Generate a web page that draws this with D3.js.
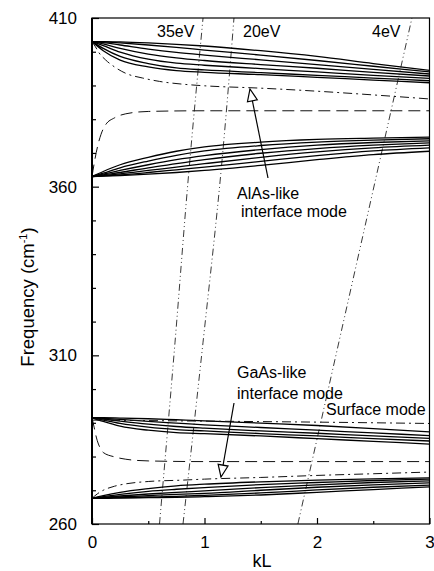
<!DOCTYPE html>
<html>
<head>
<meta charset="utf-8">
<script src="https://cdn.jsdelivr.net/npm/d3@7/dist/d3.min.js"></script>
<style>
  body { margin: 0; background: #fff; }
  svg { display: block; font-family: "Liberation Sans", Arial, sans-serif; }
</style>
</head>
<body>
<svg id="chart" width="434" height="571"></svg>
<script>
// kL grid shared by the confined-mode curves
const kGrid = [0, 0.1, 0.25, 0.5, 0.75, 1, 1.5, 2, 2.5, 3];

// AlAs-like LO confined modes (start at 403, fan downwards)
const alasLO = [
  [403, 403, 402.9, 402.6, 402.2, 401.7, 400.3, 398.6, 396.5, 394.5],
  [403, 402.9, 402.6, 402, 401.3, 400.5, 399, 397.4, 395.7, 394],
  [403, 402.7, 402, 400.8, 399.8, 399, 397.6, 396.2, 394.8, 393.4],
  [403, 402.3, 401, 399.3, 398.2, 397.4, 396.2, 395.1, 393.9, 392.8],
  [403, 401.8, 399.9, 397.8, 396.6, 396, 395, 394, 393, 392.1],
  [403, 401, 398.6, 396.5, 395.2, 394.6, 393.8, 393, 392.2, 391.4],
  [403, 400.3, 397.5, 395.5, 394.4, 393.9, 393.2, 392.4, 391.6, 390.8]
];
// AlAs-like TO confined modes (start at 363, fan upwards)
const alasTO = [
  [363, 364.5, 366.5, 368.7, 370.5, 371.8, 373.2, 374, 374.4, 374.7],
  [363, 364, 365.6, 367.6, 369.3, 370.6, 372.2, 373.2, 373.8, 374.2],
  [363, 363.7, 364.8, 366.5, 368, 369.2, 371, 372.3, 373.1, 373.6],
  [363, 363.5, 364.2, 365.6, 366.8, 368, 369.9, 371.3, 372.3, 373],
  [363, 363.3, 363.8, 364.8, 365.8, 366.8, 368.7, 370.3, 371.5, 372.3],
  [363, 363.2, 363.5, 364.2, 365, 365.8, 367.5, 369.2, 370.6, 371.5],
  [363, 363.1, 363.3, 363.7, 364.2, 364.8, 366.3, 368, 369.5, 370.5]
];
// GaAs-like LO confined modes
const gaasLO = [
  [291.5, 291.5, 291.4, 291.2, 290.9, 290.6, 289.9, 289.2, 288.3, 287.3],
  [291.5, 291.3, 291, 290.4, 289.9, 289.4, 288.6, 287.8, 287, 286.2],
  [291.5, 291.1, 290.5, 289.6, 288.9, 288.4, 287.6, 286.9, 286.1, 285.4],
  [291.5, 290.8, 289.8, 288.7, 288, 287.6, 286.8, 286.1, 285.3, 284.6],
  [291.5, 290.4, 289, 287.8, 287.1, 286.8, 286.1, 285.3, 284.5, 283.7]
];
// GaAs-like TO confined modes
const gaasTO = [
  [267.6, 268.4, 269.4, 270.5, 271.3, 271.8, 272.5, 273, 273.4, 273.7],
  [267.6, 268.1, 268.8, 269.7, 270.3, 270.8, 271.7, 272.3, 272.9, 273.3],
  [267.6, 267.9, 268.3, 268.9, 269.4, 269.8, 270.8, 271.6, 272.3, 272.8],
  [267.6, 267.8, 268, 268.4, 268.8, 269.1, 270, 270.9, 271.6, 272.2],
  [267.6, 267.7, 267.8, 268, 268.2, 268.5, 269.2, 270.1, 270.9, 271.5],
  [267.6, 267.6, 267.7, 267.8, 267.9, 268.1, 268.6, 269.4, 270.2, 271]
];

// interface / surface modes: [kL, frequency]
const alasInterface = [[0, 403], [0.03, 401.5], [0.06, 399.8], [0.12, 397.6], [0.2, 395.5], [0.3, 393.6],
  [0.45, 392.2], [0.6, 391.2], [0.8, 390.4], [1, 389.9], [1.5, 389.2], [2, 388.3], [2.5, 387.2], [3, 386]];
const alasDashed = [[0, 363], [0.02, 367], [0.05, 372], [0.08, 375.5], [0.12, 378.3], [0.2, 380.4],
  [0.3, 381.6], [0.5, 382.3], [1, 382.5], [3, 382.5]];
const gaasDashed = [[0, 291.5], [0.02, 288.5], [0.04, 285.5], [0.07, 282.7], [0.1, 281.2], [0.2, 279.9],
  [0.3, 279.2], [0.5, 278.7], [1, 278.5], [3, 278.5]];
const gaasInterface = [[0, 267.6], [0.05, 269], [0.1, 270], [0.2, 271.2], [0.3, 271.9], [0.5, 272.6],
  [0.8, 273], [1, 273.3], [1.5, 273.8], [2, 274.4], [2.5, 274.9], [3, 275.4]];
const surfaceMode = [[0, 290.8], [1, 290.5], [2, 290.2], [3, 289.8]];

// scattering lines for three electron energies
const energyLabels = ["35eV", "20eV", "4eV"];
const energyLines = [
  [[0.6, 260], [0.738, 313.9], [0.853, 361.4], [0.987, 410]],
  [[0.809, 260], [0.987, 313.9], [1.138, 361.4], [1.262, 410]],
  [[1.83, 260], [2.844, 410]]
];

const xTicks = [0, 1, 2, 3];
const yTicks = [260, 310, 360, 410];

const svg = d3.select("#chart");
const margin = { left: 92, top: 18, right: 4.5, bottom: 47 };
const W = 434, H = 571;

const x = d3.scaleLinear().domain([0, 3]).range([margin.left, W - margin.right]);
const y = d3.scaleLinear().domain([260, 410]).range([H - margin.bottom, margin.top]);

svg.append("clipPath").attr("id", "clip")
  .append("rect")
  .attr("x", x(0)).attr("y", y(410))
  .attr("width", x(3) - x(0)).attr("height", y(260) - y(410));

const plot = svg.append("g").attr("clip-path", "url(#clip)");

const curveLine = d3.line()
  .x((d, i) => x(kGrid[i]))
  .y((d) => y(d))
  .curve(d3.curveMonotoneX);

const ptLine = d3.line()
  .x((d) => x(d[0]))
  .y((d) => y(d[1]))
  .curve(d3.curveMonotoneX);

const ptLineY = d3.line()
  .x((d) => x(d[0]))
  .y((d) => y(d[1]))
  .curve(d3.curveMonotoneY);

// energy lines
energyLines.forEach((pts) => {
  plot.append("path")
    .attr("d", ptLineY(pts))
    .attr("fill", "none")
    .attr("stroke", "#222")
    .attr("stroke-width", 0.9)
    .attr("stroke-dasharray", "7,3,1,3,1,3");
});

// confined mode bands
[alasLO, alasTO, gaasLO, gaasTO].forEach((band) => {
  band.forEach((c) => {
    plot.append("path")
      .attr("d", curveLine(c))
      .attr("fill", "none")
      .attr("stroke", "#000")
      .attr("stroke-width", 1.3);
  });
});

// interface & surface modes
const dashDot = "9,4,2,4";
const dashed = "12,6";
[
  [alasInterface, dashDot],
  [gaasInterface, dashDot],
  [surfaceMode, dashDot],
  [alasDashed, dashed],
  [gaasDashed, dashed]
].forEach(([pts, dash]) => {
  plot.append("path")
    .attr("d", ptLine(pts))
    .attr("fill", "none")
    .attr("stroke", "#111")
    .attr("stroke-width", 1)
    .attr("stroke-dasharray", dash);
});

// frame
svg.append("rect")
  .attr("x", x(0)).attr("y", y(410))
  .attr("width", x(3) - x(0)).attr("height", y(260) - y(410))
  .attr("fill", "none").attr("stroke", "#000").attr("stroke-width", 1.2);
svg.append("line")
  .attr("x1", x(0)).attr("x2", x(0)).attr("y1", y(410)).attr("y2", y(260))
  .attr("stroke", "#000").attr("stroke-width", 2);

// axes with inward ticks
const yAxis = d3.axisLeft(y).tickValues(d3.range(260, 411, 10))
  .tickSize(-4).tickFormat((d) => (yTicks.includes(d) ? d : ""));
const gy = svg.append("g").attr("transform", `translate(${x(0)},0)`).call(yAxis);
gy.select(".domain").remove();
gy.selectAll(".tick line").attr("x2", (d) => (yTicks.includes(d) ? 7 : 4)).attr("stroke-width", 1.2);
gy.selectAll(".tick text").attr("x", -15).attr("font-size", 17).attr("fill", "#000");

const xAxis = d3.axisBottom(x).tickValues(d3.range(0, 3.01, 0.5))
  .tickSize(-3).tickFormat((d) => (xTicks.includes(d) ? d : ""));
const gx = svg.append("g").attr("transform", `translate(0,${y(260)})`).call(xAxis);
gx.select(".domain").remove();
gx.selectAll(".tick line").attr("y2", (d) => (xTicks.includes(d) ? -6 : -3)).attr("stroke-width", 1.2);
gx.selectAll(".tick text").attr("y", 12).attr("font-size", 17).attr("fill", "#000");

// axis titles
svg.append("text")
  .attr("x", 262).attr("y", 567)
  .attr("text-anchor", "middle").attr("font-size", 18)
  .text("kL");

const yt = svg.append("text")
  .attr("transform", "translate(34,297) rotate(-90)")
  .attr("text-anchor", "middle").attr("font-size", 18.5);
yt.append("tspan").text("Frequency (cm");
yt.append("tspan").attr("font-size", 11).attr("dy", -7).text("-1");
yt.append("tspan").attr("dy", 7).text(")");

// energy labels
const labelPos = [[157, 37], [243, 37], [372, 37]];
energyLabels.forEach((t, i) => {
  svg.append("text").attr("x", labelPos[i][0]).attr("y", labelPos[i][1])
    .attr("font-size", 16).text(t);
});

svg.append("text").attr("x", 326).attr("y", 415).attr("font-size", 16).text("Surface mode");

// annotations with open-head arrows
function arrow(x1, y1, x2, y2) {
  svg.append("line").attr("x1", x1).attr("y1", y1).attr("x2", x2).attr("y2", y2)
    .attr("stroke", "#000").attr("stroke-width", 1.2);
  const a = Math.atan2(y2 - y1, x2 - x1);
  const L = 12, w = 5;
  const bx = x2 - L * Math.cos(a), by = y2 - L * Math.sin(a);
  const px = -Math.sin(a) * w, py = Math.cos(a) * w;
  svg.append("path")
    .attr("d", `M${x2},${y2}L${bx + px},${by + py}L${bx - px},${by - py}Z`)
    .attr("fill", "#fff").attr("stroke", "#000").attr("stroke-width", 1.2);
}

const ann1 = svg.append("text").attr("font-size", 16);
ann1.append("tspan").attr("x", 237).attr("y", 199).text("AlAs-like");
ann1.append("tspan").attr("x", 241).attr("y", 217).text("interface mode");
arrow(268, 178, 250, 89);

const ann2 = svg.append("text").attr("font-size", 16);
ann2.append("tspan").attr("x", 237).attr("y", 378).text("GaAs-like");
ann2.append("tspan").attr("x", 237).attr("y", 399).text("interface mode");
arrow(234, 403, 221, 477);
</script>
</body>
</html>
